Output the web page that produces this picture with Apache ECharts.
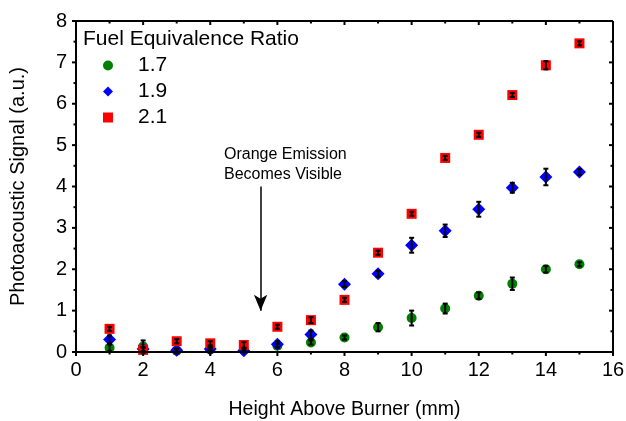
<!DOCTYPE html>
<html>
<head>
<meta charset="utf-8">
<script src="https://cdn.jsdelivr.net/npm/echarts@6/dist/echarts.min.js"></script>
<style>
  html, body { margin: 0; padding: 0; background: #fff; }
  #chart { width: 626px; height: 421px; }
</style>
</head>
<body>
<div id="chart"></div>
<script>
// heights above burner (mm)
const heights = [1, 2, 3, 4, 5, 6, 7, 8, 9, 10, 11, 12, 13, 14, 15]

// photoacoustic signal per equivalence ratio
const phi17 = [0.10, 0.13, 0.03, 0.06, 0.05, 0.15, 0.23, 0.35, 0.60, 0.82, 1.05, 1.36, 1.65, 2.00, 2.12]
const phi19 = [0.30, 0.07, 0.04, 0.07, 0.03, 0.19, 0.42, 1.64, 1.89, 2.58, 2.93, 3.45, 3.97, 4.23, 4.35]
const phi21 = [0.56, 0.05, 0.26, 0.21, 0.17, 0.61, 0.77, 1.26, 2.40, 3.34, 4.69, 5.25, 6.21, 6.93, 7.46]

// error bar half widths
const err17 = [0.08, 0.15, 0.05, 0.07, 0.05, 0.05, 0.05, 0.05, 0.10, 0.18, 0.12, 0.08, 0.15, 0.08, 0.05]
const err19 = [0.10, 0.05, 0.03, 0.03, 0.03, 0.07, 0.10, 0.07, 0.07, 0.18, 0.15, 0.18, 0.12, 0.20, 0.07]
const err21 = [0.05, 0.05, 0.05, 0.05, 0.07, 0.05, 0.07, 0.05, 0.05, 0.05, 0.05, 0.05, 0.05, 0.10, 0.05]

// tick positions (major every 2 mm / 1 a.u., minor in between)
const xTicks = [0, 1, 2, 3, 4, 5, 6, 7, 8, 9, 10, 11, 12, 13, 14, 15, 16]
const yTicks = [0, 0.5, 1, 1.5, 2, 2.5, 3, 3.5, 4, 4.5, 5, 5.5, 6, 6.5, 7, 7.5, 8]
const xMin = 0, xMax = 16, yMin = 0, yMax = 8

const font = 'Liberation Sans, Arial, sans-serif'
const ink = '#020202'

function pts (vals) {
  return heights.map((h, i) => [h, vals[i]])
}
function bars (vals, errs) {
  return heights.map((h, i) => [h, vals[i] - errs[i], vals[i] + errs[i]])
}

function seg (x1, y1, x2, y2) {
  return { type: 'line', shape: { x1, y1, x2, y2 }, style: { stroke: ink, lineWidth: 2 } }
}

function errorSeries (name, vals, errs) {
  return {
    type: 'custom',
    name: name + '_err',
    z: 5,
    renderItem: (params, api) => {
      const x = api.value(0)
      const lo = api.coord([x, api.value(1)])
      const hi = api.coord([x, api.value(2)])
      const cap = 2.5
      return {
        type: 'group',
        children: [
          seg(lo[0], lo[1], hi[0], hi[1]),
          seg(lo[0] - cap, lo[1], lo[0] + cap, lo[1]),
          seg(hi[0] - cap, hi[1], hi[0] + cap, hi[1])
        ]
      }
    },
    data: bars(vals, errs)
  }
}

// box frame and ticks (out on bottom/left, in on top/right), drawn through the scales
const frameSeries = {
  type: 'custom',
  name: 'frame',
  z: 5,
  renderItem: (params, api) => {
    const v = api.value(0)
    const onX = api.value(1) === 0
    const kids = []
    if (onX) {
      const major = v % 2 === 0
      const len = major ? 4 : 2.5
      const b = api.coord([v, yMin])
      const t = api.coord([v, yMax])
      kids.push(seg(b[0], b[1], b[0], b[1] + len), seg(t[0], t[1], t[0], t[1] + len))
      if (v === xMin || v === xMax) kids.push(seg(b[0], b[1], t[0], t[1]))
    } else {
      const major = v % 1 === 0
      const len = major ? 4 : 2.5
      const l = api.coord([xMin, v])
      const r = api.coord([xMax, v])
      kids.push(seg(l[0], l[1], l[0] - len, l[1]), seg(r[0], r[1], r[0] - len, r[1]))
      if (v === yMin || v === yMax) kids.push(seg(l[0], l[1], r[0], r[1]))
    }
    return { type: 'group', children: kids }
  },
  data: xTicks.map(v => [v, 0]).concat(yTicks.map(v => [v, 1]))
}

const plainAxis = {
  axisLine: { show: true, onZero: false, lineStyle: { color: ink, width: 2 } },
  axisTick: { show: false },
  splitLine: { show: false }
}

const chart = echarts.init(document.getElementById('chart'))
chart.setOption({
  animation: false,
  textStyle: { fontFamily: font },
  grid: { left: 76, right: 13, top: 21, bottom: 69, outerBoundsMode: 'none' },
  title: {
    text: 'Fuel Equivalence Ratio',
    left: 83,
    top: 29,
    padding: 0,
    textStyle: { fontFamily: font, fontSize: 21, fontWeight: 'normal', color: '#000' }
  },
  legend: {
    orient: 'vertical',
    left: 103,
    top: 55,
    padding: 0,
    itemGap: 5,
    itemWidth: 10,
    itemHeight: 10,
    data: ['1.7', '1.9', '2.1'],
    textStyle: { fontFamily: font, fontSize: 21, color: '#000', padding: [0, 0, 0, 20] }
  },
  xAxis: Object.assign({
    type: 'value', min: xMin, max: xMax, interval: 2,
    name: 'Height Above Burner (mm)',
    nameLocation: 'middle', nameGap: 48,
    nameTextStyle: { fontFamily: font, fontSize: 19.5, color: '#000' },
    axisLabel: { fontFamily: font, fontSize: 20, color: '#000', margin: 8 }
  }, plainAxis),
  yAxis: Object.assign({
    type: 'value', min: yMin, max: yMax, interval: 1,
    name: 'Photoacoustic Signal (a.u.)',
    nameLocation: 'middle', nameGap: 48,
    nameTextStyle: { fontFamily: font, fontSize: 20, color: '#000' },
    axisLabel: { fontFamily: font, fontSize: 20, color: '#000', margin: 9 }
  }, plainAxis),
  series: [
    {
      name: '1.7', type: 'scatter', symbol: 'circle', symbolSize: 10,
      itemStyle: { color: '#008000', opacity: 1 }, data: pts(phi17), z: 3,
      markLine: {
        silent: true,
        symbol: ['none', 'arrow'],
        symbolSize: [10, 16],
        label: { show: false },
        lineStyle: { color: ink, width: 1.5, type: 'solid' },
        data: [[{ coord: [5.5, 4.0] }, { coord: [5.5, 1.0] }]]
      }
    },
    {
      name: '1.9', type: 'scatter', symbol: 'diamond', symbolSize: 13,
      itemStyle: { color: '#0000ff', opacity: 1 }, data: pts(phi19), z: 3
    },
    {
      name: '2.1', type: 'scatter', symbol: 'rect', symbolSize: 10,
      itemStyle: { color: '#ff0000', opacity: 1 }, data: pts(phi21), z: 3
    },
    errorSeries('1.7', phi17, err17),
    errorSeries('1.9', phi19, err19),
    errorSeries('2.1', phi21, err21),
    frameSeries
  ],
  graphic: [
    {
      type: 'text', top: 145, left: 224,
      style: {
        text: 'Orange Emission\nBecomes Visible',
        fontFamily: font, fontSize: 16, lineHeight: 20,
        fill: '#000', align: 'center'
      }
    }
  ]
})
</script>
</body>
</html>
